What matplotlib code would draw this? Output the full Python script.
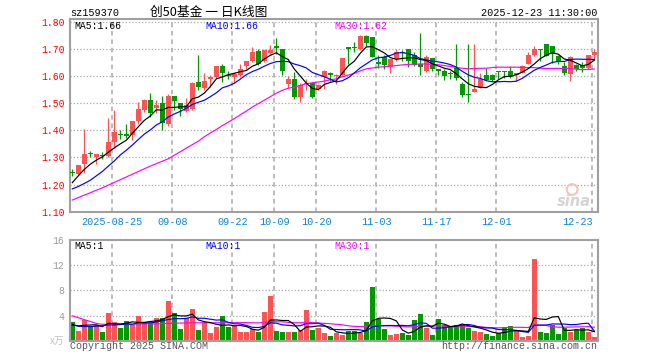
import matplotlib
matplotlib.use("Agg")
import matplotlib.pyplot as plt
import numpy as np

# ---------------- data ----------------
opens = [1.246, 1.238, 1.275, 1.313, 1.300, 1.307, 1.304, 1.357, 1.385, 1.388,
         1.382, 1.433, 1.473, 1.512, 1.483, 1.499, 1.422, 1.528, 1.501, 1.470,
         1.478, 1.577, 1.556, 1.590, 1.596, 1.635, 1.601, 1.596, 1.605, 1.636,
         1.657, 1.691, 1.654, 1.685, 1.712, 1.700, 1.571, 1.590, 1.522, 1.571,
         1.574, 1.551, 1.596, 1.610, 1.600, 1.602, 1.705, 1.704, 1.700, 1.749,
         1.745, 1.650, 1.669, 1.633, 1.663, 1.690, 1.700, 1.676, 1.645, 1.620,
         1.668, 1.627, 1.617, 1.609, 1.629, 1.571, 1.531, 1.541, 1.556, 1.605,
         1.604, 1.616, 1.615, 1.617, 1.602, 1.612, 1.645, 1.678, 1.700, 1.718,
         1.710, 1.673, 1.636, 1.608, 1.641, 1.641, 1.629, 1.678]
highs = [1.256, 1.272, 1.404, 1.324, 1.312, 1.320, 1.446, 1.473, 1.400, 1.424,
         1.434, 1.504, 1.516, 1.539, 1.510, 1.527, 1.532, 1.528, 1.501, 1.520,
         1.578, 1.679, 1.610, 1.602, 1.638, 1.645, 1.620, 1.614, 1.645, 1.657,
         1.708, 1.700, 1.697, 1.716, 1.739, 1.700, 1.600, 1.614, 1.575, 1.590,
         1.577, 1.571, 1.623, 1.614, 1.608, 1.666, 1.705, 1.727, 1.752, 1.752,
         1.745, 1.676, 1.676, 1.663, 1.700, 1.697, 1.700, 1.688, 1.759, 1.676,
         1.668, 1.627, 1.627, 1.620, 1.718, 1.578, 1.718, 1.718, 1.612, 1.629,
         1.608, 1.617, 1.617, 1.636, 1.612, 1.639, 1.690, 1.710, 1.700, 1.718,
         1.710, 1.678, 1.651, 1.675, 1.645, 1.653, 1.678, 1.700]
lows = [1.233, 1.234, 1.243, 1.300, 1.274, 1.295, 1.300, 1.336, 1.369, 1.373,
        1.363, 1.424, 1.467, 1.449, 1.464, 1.400, 1.415, 1.473, 1.452, 1.467,
        1.476, 1.547, 1.549, 1.559, 1.593, 1.577, 1.590, 1.575, 1.596, 1.626,
        1.651, 1.641, 1.651, 1.681, 1.681, 1.605, 1.555, 1.516, 1.506, 1.550,
        1.519, 1.547, 1.553, 1.583, 1.571, 1.600, 1.645, 1.687, 1.697, 1.712,
        1.669, 1.629, 1.624, 1.612, 1.657, 1.657, 1.633, 1.636, 1.602, 1.614,
        1.620, 1.602, 1.587, 1.590, 1.584, 1.522, 1.504, 1.541, 1.556, 1.584,
        1.583, 1.590, 1.592, 1.592, 1.580, 1.610, 1.645, 1.675, 1.657, 1.675,
        1.648, 1.645, 1.604, 1.583, 1.620, 1.614, 1.626, 1.663]
closes = [1.244, 1.271, 1.312, 1.311, 1.311, 1.306, 1.355, 1.393, 1.384, 1.378,
          1.433, 1.477, 1.510, 1.465, 1.492, 1.427, 1.528, 1.509, 1.477, 1.492,
          1.574, 1.559, 1.583, 1.596, 1.635, 1.610, 1.600, 1.608, 1.626, 1.657,
          1.688, 1.645, 1.697, 1.694, 1.704, 1.618, 1.590, 1.522, 1.565, 1.574,
          1.522, 1.565, 1.618, 1.602, 1.603, 1.665, 1.700, 1.702, 1.749, 1.720,
          1.669, 1.645, 1.642, 1.663, 1.688, 1.685, 1.657, 1.641, 1.633, 1.669,
          1.624, 1.618, 1.600, 1.607, 1.592, 1.529, 1.529, 1.553, 1.590, 1.584,
          1.587, 1.614, 1.614, 1.596, 1.612, 1.636, 1.678, 1.700, 1.694, 1.675,
          1.682, 1.651, 1.612, 1.669, 1.626, 1.629, 1.678, 1.690]
volumes = [3.0, 1.54, 3.3, 2.3, 2.5, 1.4, 4.4, 2.9, 2.07, 3.1,
           2.5, 4.0, 2.9, 2.75, 3.6, 3.55, 6.3, 4.4, 1.86, 3.55,
           5.0, 1.7, 3.0, 1.17, 2.2, 4.0, 2.2, 2.3, 1.4, 1.4,
           1.86, 1.4, 4.6, 7.1, 1.54, 1.4, 1.4, 1.4, 1.7, 4.9,
           1.7, 2.07, 1.27, 0.74, 1.27, 0.9, 1.54, 1.54, 1.27, 2.97,
           8.5, 3.45, 1.86, 0.9, 1.06, 1.27, 0.9, 3.3, 4.25, 2.07,
           0.9, 3.45, 2.5, 2.33, 2.5, 2.5, 2.07, 1.54, 1.38, 1.06,
           0.74, 1.17, 2.17, 2.33, 1.54, 0.58, 0.74, 13.0, 1.38, 1.22,
           2.5, 1.06, 2.07, 1.38, 1.75, 2.07, 1.38, 0.58]

# moving-average values at the left edge (window reaches before the shown range)
ma5_head = [1.207, 1.232, 1.256, 1.275]
ma10_head = [1.184, 1.193, 1.204, 1.216, 1.232, 1.248, 1.268, 1.287, 1.309]
ma30_head = [1.143, 1.152, 1.161, 1.170, 1.179, 1.188, 1.198, 1.208, 1.218, 1.228,
             1.238, 1.248, 1.258, 1.268, 1.277, 1.286, 1.295, 1.308, 1.321, 1.334,
             1.347, 1.360, 1.376, 1.390, 1.403, 1.417, 1.430, 1.443, 1.457]
vma5_head = [2.5, 2.35, 2.45, 2.5]
vma10_head = [2.6, 2.3, 2.25, 2.25, 2.3, 2.4, 2.5, 2.5, 2.55]
vma30_head = [3.95, 3.65, 3.35, 3.05, 2.75, 2.6, 2.6, 2.62, 2.62, 2.63,
              2.64, 2.65, 2.66, 2.67, 2.68, 2.7, 2.75, 2.78, 2.8, 2.82,
              2.85, 2.85, 2.85, 2.84, 2.84, 2.86, 2.86, 2.87, 2.87]

tick_labels = ["2025-08-25", "09-08", "09-22", "10-09", "10-20",
               "11-03", "11-17", "12-01", "12-23"]
tick_index = [7, 17, 27, 34, 41, 51, 61, 71, 87]
price_ticks = [1.10, 1.20, 1.30, 1.40, 1.50, 1.60, 1.70, 1.80]
vol_ticks = [4, 8, 12, 16]

title_code = "sz159370"
title_text = "创50基金 一 日K线图"
time_text = "2025-12-23 11:30:00"
ma_texts = ["MA5:1.66", "MA10:1.66", "MA30:1.62"]
vma_texts = ["MA5:1", "MA10:1", "MA30:1"]


def moving_average(vals, n, head):
    out = []
    for i in range(len(vals)):
        if i < n - 1:
            out.append(head[i])
        else:
            out.append(float(np.mean(vals[i - n + 1:i + 1])))
    return out


# ---------------- drawing ----------------
W, H = 660, 360
RED = "#ff5252"
GREEN = "#009a00"
GRID = "#aaaaaa"
SPINE = "#a0a0a0"
MONO = "Liberation Mono"

fig = plt.figure(figsize=(W / 100, H / 100), dpi=100)
fig.patch.set_facecolor("white")

L, R = 70, 597.5
ax = fig.add_axes([L / W, 1 - 211.7 / H, (R - L) / W, (211.7 - 19) / H])
axv = fig.add_axes([L / W, 1 - 340.7 / H, (R - L) / W, (340.7 - 240) / H])

n = len(closes)
x = np.arange(n)
o = np.array(opens); c = np.array(closes)
h = np.array(highs); lo = np.array(lows)
up = c >= o
colors = [RED if u else GREEN for u in up]

xmin, xmax = (L - 72.3) / 6.0, (R - 72.3) / 6.0

for a in (ax, axv):
    a.set_xlim(xmin, xmax)
    for s in a.spines.values():
        s.set_color(SPINE)
        s.set_linewidth(1.5)
    a.set_xticks([])
    for ti in tick_index:
        a.axvline(ti - 0.33, color=GRID, lw=1.1, ls=(0, (3, 2.5)), zorder=0)

# price panel
ax.set_ylim(1.10, 1.81)
for p in price_ticks[1:]:
    ax.axhline(p, color=GRID, lw=0.9, ls=(0, (1, 1.6)), zorder=0)
ax.vlines(x, lo, h, colors=colors, lw=0.9, zorder=2)
body_h = np.maximum(np.abs(c - o), 0.0035)
ax.bar(x, body_h, bottom=np.minimum(o, c), width=0.8, color=colors,
       linewidth=0, zorder=3)
ma5 = moving_average(closes, 5, ma5_head)
ma10 = moving_average(closes, 10, ma10_head)
ma30 = moving_average(closes, 30, ma30_head)
ax.plot(x, ma30, color="#ff00ff", lw=0.85, zorder=4)
ax.plot(x, ma10, color="#0000ff", lw=0.85, zorder=4)
ax.plot(x, ma5, color="black", lw=0.85, zorder=5)
ax.set_yticks(price_ticks)
ax.set_yticklabels(["%.2f" % p for p in price_ticks], color="red",
                   fontfamily=MONO, fontsize=7)
ax.tick_params(axis="y", length=0, pad=4)

for lab, ti in zip(tick_labels, tick_index):
    ha = "right" if ti == tick_index[-1] else "center"
    xx = ti - 0.33 + (0.1 if ha == "right" else 0)
    ax.text(xx, -0.052, lab, transform=ax.get_xaxis_transform(), ha=ha,
            va="center", color="#0a84d0", fontfamily=MONO, fontsize=7.3)

ax.text(0.009, 0.962, ma_texts[0], transform=ax.transAxes, color="black",
        fontfamily=MONO, fontsize=7, va="center", ha="left", zorder=6)
ax.text(0.256, 0.962, ma_texts[1], transform=ax.transAxes, color="#0000ff",
        fontfamily=MONO, fontsize=7, va="center", ha="left", zorder=6)
ax.text(0.502, 0.962, ma_texts[2], transform=ax.transAxes, color="#ff00ff",
        fontfamily=MONO, fontsize=7, va="center", ha="left", zorder=6)

# sina watermark
ax.text(0.955, 0.055, "sina", transform=ax.transAxes, color="#d4d4d4",
        fontsize=10.5, fontstyle="italic", fontweight="bold", ha="center",
        va="center", family="DejaVu Sans", zorder=1)
ax.scatter([0.952], [0.115], s=60, transform=ax.transAxes, facecolor="none",
           edgecolor="#f3c2c2", linewidth=1.5, zorder=1)

# volume panel
axv.set_ylim(0, 16)
for vt in vol_ticks[:-1]:
    axv.axhline(vt, color=GRID, lw=0.9, ls=(0, (1, 1.6)), zorder=0)
axv.bar(x, volumes, width=0.8, color=colors, linewidth=0, zorder=2)
vma5 = moving_average(volumes, 5, vma5_head)
vma10 = moving_average(volumes, 10, vma10_head)
vma30 = moving_average(volumes, 30, vma30_head)
axv.plot(x, vma30, color="#ff00ff", lw=0.85, zorder=4)
axv.plot(x, vma10, color="#0000ff", lw=0.85, zorder=4)
axv.plot(x, vma5, color="black", lw=0.85, zorder=5)
axv.set_yticks(vol_ticks)
axv.set_yticklabels([str(v) for v in vol_ticks], color="#999999",
                    fontfamily=MONO, fontsize=7)
axv.tick_params(axis="y", length=0, pad=4)
axv.text(-0.01, 0.0, "x万", transform=axv.transAxes, ha="right", va="center",
         color="#c0c0c0", fontsize=7, fontstyle="italic",
         family=["Noto Sans CJK SC", "DejaVu Sans"])
axv.text(0.009, 0.937, vma_texts[0], transform=axv.transAxes, color="black",
         fontfamily=MONO, fontsize=7, va="center", ha="left", zorder=6)
axv.text(0.256, 0.937, vma_texts[1], transform=axv.transAxes, color="#0000ff",
         fontfamily=MONO, fontsize=7, va="center", ha="left", zorder=6)
axv.text(0.502, 0.937, vma_texts[2], transform=axv.transAxes, color="#ff00ff",
         fontfamily=MONO, fontsize=7, va="center", ha="left", zorder=6)

# header / footer texts
fig.text(L / W, 1 - 12.5 / H, title_code, ha="left", va="center",
         fontfamily=MONO, fontsize=7.3, color="black")
fig.text(150 / W, 1 - 12.5 / H, title_text, ha="left", va="center",
         family=["Noto Sans CJK SC", "DejaVu Sans"], fontsize=9.2, color="black")
fig.text(597 / W, 1 - 12.5 / H, time_text, ha="right", va="center",
         fontfamily=MONO, fontsize=7.3, color="black")
fig.text(L / W, 1 - 345.7 / H, "Copyright 2025 SINA.COM", ha="left",
         va="center", fontfamily=MONO, fontsize=7.2, color="#555555")
fig.text(597 / W, 1 - 345.7 / H, "http://finance.sina.com.cn", ha="right",
         va="center", fontfamily=MONO, fontsize=7.2, color="#555555")

fig.savefig("out.png", dpi=100, facecolor="white")
